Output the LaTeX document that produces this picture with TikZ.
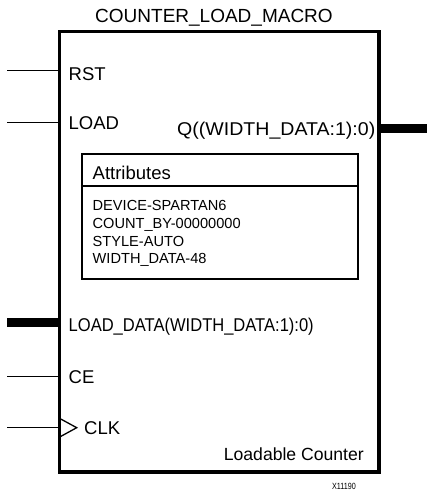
\documentclass[tikz,border=0pt]{standalone}
\usepackage{fontspec}
\setmainfont{Liberation Sans}
\begin{document}
\begin{tikzpicture}[x=1pt,y=-1pt,
  blockbox/.style={draw,line width=3.6pt,minimum width=319.5pt,minimum height=440.7pt,inner sep=0pt},
  attrbox/.style={draw,line width=1.6pt,minimum width=276pt,minimum height=125pt,inner sep=0pt},
  wire/.style={line width=1.3pt},
  buswire/.style={line width=9.5pt},
  pinlbl/.style={anchor=base west,inner sep=0pt,font=\fontsize{18.5}{20}\selectfont},
  attrlbl/.style={anchor=base west,inner sep=0pt,font=\fontsize{14.6}{17.5}\selectfont}]
\useasboundingbox (0,0) rectangle (427,491);
\node[blockbox] (blk) at (219.25,251.65) {};
\node[anchor=base,inner sep=0pt,font=\fontsize{19}{21}\selectfont] (title) at (214,22.7) {COUNTER\_LOAD\_MACRO};
% pins
\coordinate (rstin) at (7,70.7);
\coordinate (loadin) at (7,122.7);
\coordinate (ldin) at (7,322.7);
\coordinate (cein) at (7,376.7);
\coordinate (clkin) at (7,427.7);
\coordinate (qout) at (427,128.3);
\draw[wire] (rstin) -- (rstin -| blk.west);
\draw[wire] (loadin) -- (loadin -| blk.west);
\draw[buswire] (ldin) -- (ldin -| blk.west);
\draw[wire] (cein) -- (cein -| blk.west);
\draw[wire] (clkin) -- (clkin -| blk.west);
\draw[buswire] (qout -| blk.east) -- (qout);
\draw[wire,line join=miter] (59.5,418.3) -- (76.7,427.7) -- (59.5,437.1);
\node[pinlbl] (rst) at (68.5,80) {RST};
\node[pinlbl] (load) at (68.5,129) {LOAD};
\node[pinlbl,anchor=base east] (q) at (375.5,135) {\scalebox{1.057}[1]{Q((WIDTH\_DATA:1):0)}};
\node[pinlbl] (ld) at (68.5,331) {\scalebox{0.894}[1]{LOAD\_DATA(WIDTH\_DATA:1):0)}};
\node[pinlbl] (ce) at (68.5,383.3) {CE};
\node[pinlbl] (clk) at (84,434) {CLK};
% attributes
\node[attrbox] (attr) at (219.7,216.5) {};
\draw[line width=1.6pt] (attr.west |- 0,185.7) -- (attr.east |- 0,185.7);
\node[anchor=base west,inner sep=0pt,font=\fontsize{18.5}{20}\selectfont] (attrt) at (92.5,179.3) {Attributes};
\node[attrlbl] (a1) at (92.5,210.7) {DEVICE-SPARTAN6};
\node[attrlbl] (a2) at (92.5,228.3) {COUNT\_BY-00000000};
\node[attrlbl] (a3) at (92.5,246) {STYLE-AUTO};
\node[attrlbl] (a4) at (92.5,263.3) {WIDTH\_DATA-48};
\node[anchor=base east,inner sep=0pt,font=\fontsize{17.6}{20}\selectfont] (type) at (364,460.7) {Loadable Counter};
\node[anchor=base east,inner sep=0pt,font=\fontsize{9}{10}\selectfont] (fig) at (356,489) {\scalebox{0.8}[1]{X11190}};
\end{tikzpicture}
\end{document}
